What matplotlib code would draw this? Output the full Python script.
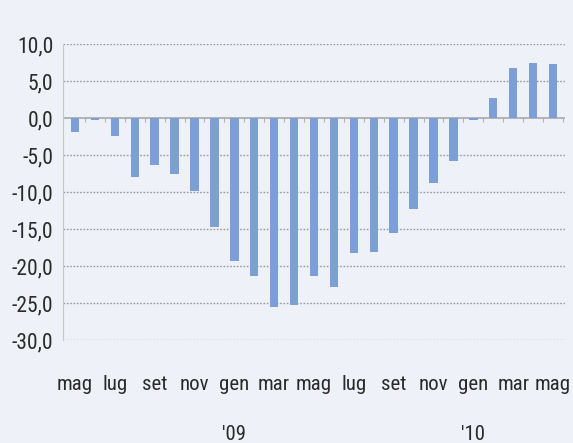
import matplotlib.pyplot as plt
from matplotlib import font_manager
import numpy as np

# monthly values, mag '08 .. mag '10
values = [-1.9, -0.3, -2.4, -8.0, -6.4, -7.5, -9.9, -14.7, -19.3, -21.3, -25.5, -25.3,
          -21.4, -22.8, -18.2, -18.1, -15.6, -12.3, -8.8, -5.8, -0.3, 2.7, 6.7, 7.5, 7.3]
month_labels = ["mag", "lug", "set", "nov", "gen", "mar", "mag",
                "lug", "set", "nov", "gen", "mar", "mag"]
year_labels = {8: "'09", 20: "'10"}
yticks = [10, 5, 0, -5, -10, -15, -20, -25, -30]

# pick a narrow font if one is around
names = {f.name for f in font_manager.fontManager.ttflist}
for cand in ['Liberation Sans Narrow', 'DejaVu Sans Condensed', 'Roboto Condensed', 'Lato']:
    if cand in names:
        plt.rcParams['font.family'] = [cand, 'DejaVu Sans']
        break
if 'DejaVu Sans Condensed' in names or 'Liberation Sans Narrow' in names:
    plt.rcParams['font.stretch'] = 'condensed'

bg = '#eef2f8'
fig = plt.figure(figsize=(5.73, 4.43), dpi=100, facecolor=bg)
ax = fig.add_axes([0.110, 0.2325, 0.876, 0.668], facecolor=bg)

x = np.arange(len(values))
ax.bar(x, values, width=0.42, color='#7ca0d6', zorder=3)

ax.set_xlim(-0.6, len(values) - 0.4)
ax.set_ylim(-30, 10)
ax.set_yticks(yticks)
ax.set_yticklabels([f"{v:.1f}".replace('.', ',') for v in yticks], fontsize=15.5, color='#2a2a2a')
ax.tick_params(axis='y', length=0, pad=7)
ax.set_xticks([])

for v in yticks:
    if v != 0:
        ax.axhline(v, color='#9a9a9a', lw=1.0, ls=(0, (1.2, 1.2)), zorder=1)
ax.axhline(0, color='#a8a8a8', lw=1.2, zorder=2)
ax.vlines(x + 0.5, -0.6, 0, color='#b0b0b0', lw=0.8, zorder=2)

for s in ['top', 'right', 'bottom']:
    ax.spines[s].set_visible(False)
ax.spines['left'].set_color('#c8c8c8')

for i, lab in enumerate(month_labels):
    ax.text(2 * i, -0.15, lab, transform=ax.get_xaxis_transform(),
            ha='center', va='center', fontsize=15, color='#2a2a2a')
for pos, lab in year_labels.items():
    ax.text(pos, -0.318, lab, transform=ax.get_xaxis_transform(),
            ha='center', va='center', fontsize=15, color='#2a2a2a')

fig.savefig('out.png', dpi=100, facecolor=bg)
